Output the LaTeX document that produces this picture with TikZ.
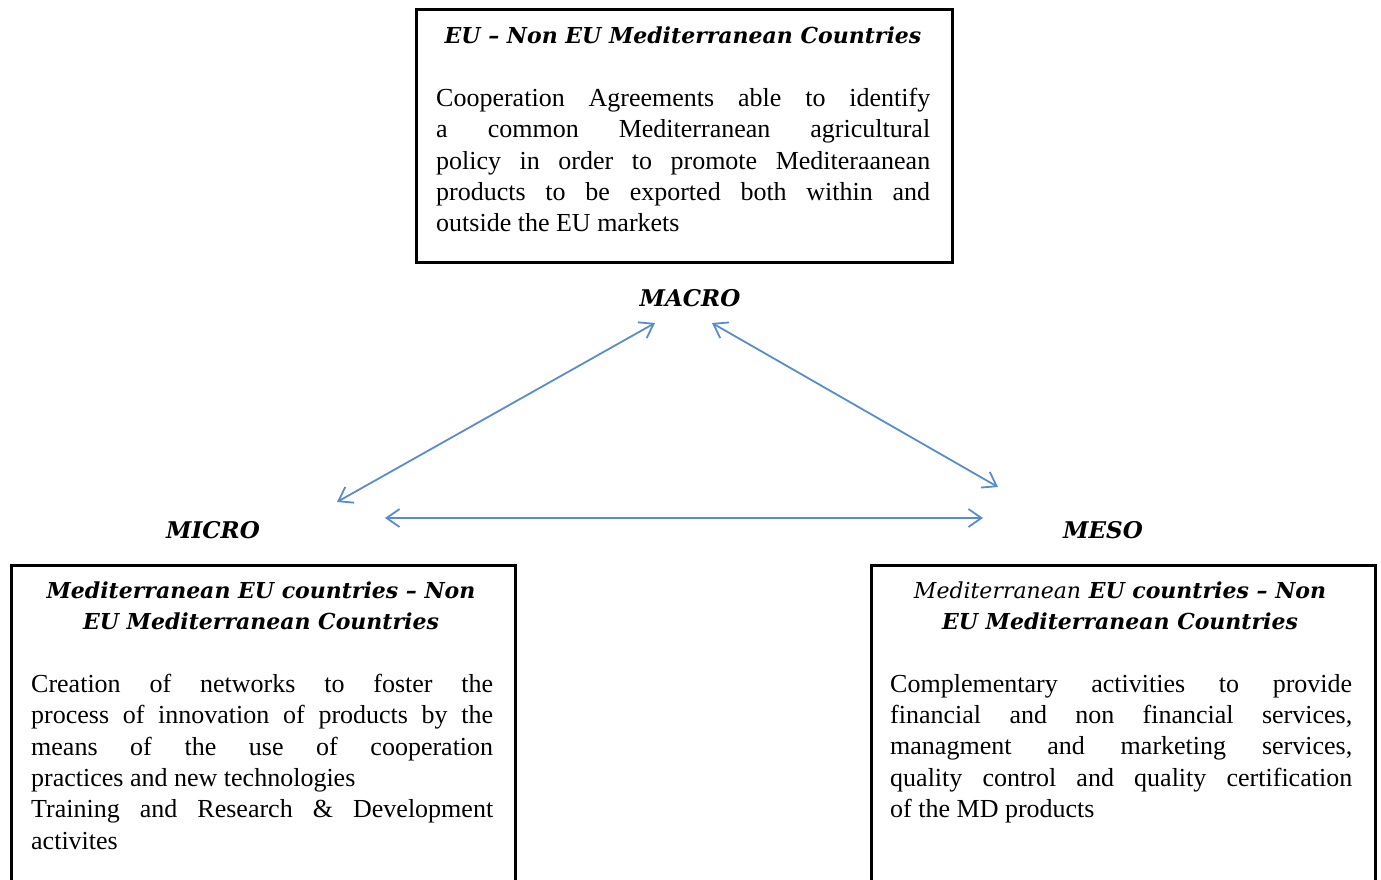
\documentclass[tikz,border=0pt]{standalone}
\usepackage{fontspec}
\setmainfont{Liberation Serif}
\newfontfamily\headfont{DejaVu Serif}
\usetikzlibrary{arrows.meta}
\definecolor{arrowblue}{RGB}{90,140,205}
\tikzset{
  box/.style={draw=black, line width=3pt, anchor=north west, inner sep=0pt},
  head/.style={font=\headfont\fontsize{22}{31.3}\selectfont\bfseries\itshape, align=center, inner sep=0pt},
  body/.style={font=\fontsize{26}{31.3}\selectfont, align=justify, anchor=north west, inner sep=0pt},
  level/.style={font=\headfont\fontsize{23}{30}\selectfont\bfseries\itshape, inner sep=0pt},
  link/.style={draw=arrowblue, line width=1.8pt, {Straight Barb[length=13pt,width=18pt]}-{Straight Barb[length=13pt,width=18pt]}}
}
\begin{document}
\begin{tikzpicture}[x=1pt,y=-1pt]
\useasboundingbox (0,0) rectangle (1381,880);
\clip (0,0) rectangle (1381,880);
% top box
\node[box, minimum width=536pt, minimum height=253pt] (top) at (415,8) {};
\node[head] (toph) at (683,35) {EU – Non EU Mediterranean Countries};
\node[body, text width=494pt] (topb) at (436,88) {Cooperation Agreements able to identify\linebreak a common Mediterranean agricultural\linebreak policy in order to promote Mediteraanean\linebreak products to be exported both within and\linebreak outside the EU markets};
% left box
\node[box, minimum width=504pt, minimum height=340pt] (left) at (10,564) {};
\node[head] (lefth) at (261,606) {Mediterranean EU countries – Non\\EU Mediterranean Countries};
\node[body, text width=462pt] (leftb) at (31,674) {Creation of networks to foster the\linebreak process of innovation of products by the\linebreak means of the use of cooperation\linebreak practices and new technologies\\Training and Research \& Development\linebreak activites};
% right box
\node[box, minimum width=504pt, minimum height=340pt] (right) at (870,564) {};
\node[head] (righth) at (1120,606) {{\mdseries Mediterranean} EU countries – Non\\EU Mediterranean Countries};
\node[body, text width=462pt] (rightb) at (890,674) {Complementary activities to provide\linebreak financial and non financial services,\linebreak managment and marketing services,\linebreak quality control and quality certification\linebreak of the MD products};
% level labels
\node[level] (macro) at (690,298) {MACRO};
\node[level] (micro) at (213,530) {MICRO};
\node[level] (meso) at (1103,530) {MESO};
% arrow ends
\coordinate (mA) at (655,323);
\coordinate (mB) at (337,502);
\coordinate (sA) at (712,323);
\coordinate (sB) at (998,487);
\coordinate (hA) at (385,518);
\coordinate (hB) at (983,518);
\draw[link] (mA) -- (mB);
\draw[link] (sA) -- (sB);
\draw[link] (hA) -- (hB);
\end{tikzpicture}
\end{document}
